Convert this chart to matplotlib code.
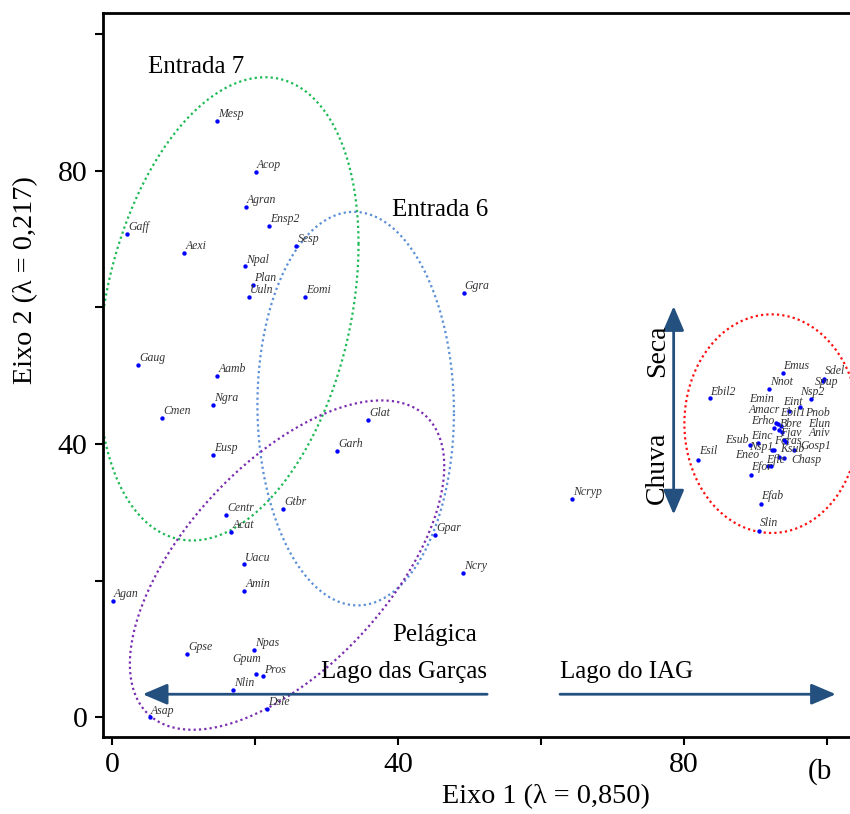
import numpy as np
import matplotlib
matplotlib.use("Agg")
import matplotlib.pyplot as plt

# ---- species scores (Axis 1, Axis 2) ----
species = ["Mesp", "Acop", "Agran", "Ensp2", "Gaff", "Sesp", "Aexi", "Npal", "Plan", "Uuln",
           "Eomi", "Ggra", "Gaug", "Aamb", "Ngra", "Cmen", "Glat", "Garh", "Eusp", "Ncryp",
           "Gtbr", "Centr", "Acat", "Gpar", "Uacu", "Ncry", "Amin", "Agan", "Npas", "Gpse",
           "Gpum", "Pros", "Nlin", "Dsle", "Asap"]
axis1 = [14.7, 20.1, 18.7, 22.0, 2.15, 25.8, 10.1, 18.6, 19.7, 19.2,
         27.0, 49.2, 3.7, 14.75, 14.1, 7.0, 35.8, 31.5, 14.2, 64.4,
         23.9, 16.0, 16.7, 45.2, 18.5, 49.1, 18.5, 0.1, 19.9, 10.5,
         20.1, 21.1, 17.0, 21.7, 5.3]
axis2 = [87.3, 79.9, 74.7, 71.9, 70.7, 69.0, 68.0, 66.0, 63.3, 61.5,
         61.5, 62.1, 51.6, 50.0, 45.8, 43.8, 43.6, 39.0, 38.4, 32.0,
         30.5, 29.7, 27.1, 26.7, 22.4, 21.2, 18.5, 17.0, 9.9, 9.3,
         6.4, 6.0, 4.0, 1.2, 0.0]

# IAG lake species
iag_species = ["Emus", "Sdel", "Spup", "Nnot", "Ebil2", "Nsp2", "Eint", "Ebil1", "Emin", "Erho",
               "Pnob", "Amacr", "Bbre", "Elun", "Fjav", "Aniv", "Einc", "Esub", "Gosp1", "Nsp1",
               "Fcras", "Ksub", "Chasp", "Esil", "Eneo", "Efle", "Efor", "Efab", "Slin"]
iag_axis1 = [93.9, 99.7, 99.5, 92.0, 83.7, 97.8, 96.3, 94.7, 92.9, 93.2,
             93.6, 92.7, 93.3, 93.8, 94.0, 94.3, 90.4, 89.3, 95.4, 92.3,
             92.6, 93.4, 94.0, 82.0, 91.8, 92.2, 89.4, 90.8, 90.6]
iag_axis2 = [50.4, 49.5, 49.3, 48.0, 46.8, 46.6, 45.5, 44.8, 43.1, 42.9,
             42.7, 42.4, 42.0, 41.8, 40.6, 40.3, 40.2, 39.9, 39.2, 39.1,
             39.1, 38.1, 38.0, 37.7, 36.8, 36.8, 35.5, 31.2, 27.3]

# label anchors for the crowded IAG group (data units)
label_pos = {
    "Emus": (93.93, 51.05), "Sdel": (99.76, 50.22), "Spup": (98.36, 48.71),
    "Nnot": (92.06, 48.61), "Ebil2": (83.75, 47.25), "Nsp2": (96.36, 47.14),
    "Emin": (89.12, 46.16), "Eint": (93.93, 45.68), "Amacr": (89.03, 44.61),
    "Ebil1": (93.56, 44.11), "Pnob": (97.06, 44.11), "Erho": (89.45, 43.0),
    "Bbre": (93.46, 42.56), "Elun": (97.44, 42.56), "Fjav": (93.56, 41.14),
    "Aniv": (97.44, 41.14), "Einc": (89.45, 40.80), "Esub": (85.76, 40.22),
    "Fcras": (92.62, 39.97), "Nsp1": (89.12, 39.19), "Gosp1": (96.36, 39.28),
    "Ksub": (93.46, 38.80), "Eneo": (87.25, 37.96), "Chasp": (95.05, 37.23),
    "Efle": (91.55, 37.23), "Esil": (82.11, 38.61), "Efor": (89.45, 36.27),
    "Efab": (90.90, 31.96), "Slin": (90.66, 28.01), "Gpum": (16.9, 8.1),
}

# group envelopes: centre x, centre y, half-width, half-height, tilt (sine)
groups = {
    "Entrada 7": dict(c=(16.3, 59.8), r=(18.2, 33.9), s=0.28, color="#1db954"),
    "Entrada 6": dict(c=(34.1, 45.2), r=(13.75, 28.8), s=-0.02, color="#5b8fd6"),
    "Pelágica": dict(c=(24.5, 22.3), r=(22.0, 24.1), s=0.60, color="#7a2db0"),
    "IAG": dict(c=(92.3, 43.0), r=(12.2, 16.0), s=0.0, color="#ff1010"),
}

SERIF = "Liberation Serif"
ARROW = "#24507f"

fig = plt.figure(figsize=(8.5, 8.14), dpi=100)
ax = fig.add_axes([103 / 850, 77.4 / 814, (853 - 103) / 850, (801 - 77.4) / 814])
ax.set_xlim(-1.26, 103.7)
ax.set_ylim(-2.8, 103.1)

# envelopes
t = np.linspace(0, 2 * np.pi, 400)
for g in groups.values():
    cx, cy = g["c"]
    rx, ry = g["r"]
    phi = np.arcsin(g["s"])
    ax.plot(cx + rx * np.cos(t), cy + ry * np.sin(t + phi), color=g["color"],
            lw=1.6, linestyle=(0, (1, 1.4)), zorder=2)

# points and names
all_x = axis1 + iag_axis1
all_y = axis2 + iag_axis2
all_n = species + iag_species
ax.scatter(all_x, all_y, s=10, color="#0000ff", zorder=4, linewidths=0)
for n, x, y in zip(all_n, all_x, all_y):
    if n in label_pos:
        lx, ly = label_pos[n]
        ax.text(lx, ly, n, fontsize=8.5, style="italic", family=SERIF,
                color="#333333", ha="left", va="baseline", zorder=5)
    else:
        ax.annotate(n, (x, y), xytext=(0.8, 2.8), textcoords="offset points",
                    fontsize=8.5, style="italic", family=SERIF, color="#333333",
                    ha="left", va="baseline", zorder=5)

# arrows
akw = dict(arrowstyle="-|>,head_length=0.75,head_width=0.32", mutation_scale=20,
           lw=2.0, color=ARROW, shrinkA=0, shrinkB=0)
ax.annotate("", xy=(4.3, 3.4), xytext=(52.5, 3.4), arrowprops=akw)
ax.annotate("", xy=(101.3, 3.4), xytext=(62.7, 3.4), arrowprops=akw)
akw2 = dict(akw, arrowstyle="<|-|>,head_length=0.75,head_width=0.32")
ax.annotate("", xy=(78.6, 60.2), xytext=(78.6, 29.7), arrowprops=akw2)

# group / gradient titles
tkw = dict(family=SERIF, fontsize=18, color="black")
ax.text(5.0, 95.2, "Entrada 7", va="center", ha="left", **tkw)
ax.text(39.2, 74.2, "Entrada 6", va="center", ha="left", **tkw)
ax.text(39.2, 12.0, "Pelágica", va="center", ha="left", **tkw)
ax.text(52.5, 6.6, "Lago das Garças", va="center", ha="right", **tkw)
ax.text(62.7, 6.6, "Lago do IAG", va="center", ha="left", **tkw)
rkw = dict(tkw, fontsize=20)
ax.text(76.3, 53.7, "Seca", va="center", ha="center", rotation=90, **rkw)
ax.text(76.3, 36.5, "Chuva", va="center", ha="center", rotation=90, **rkw)

# axes styling
ax.spines["right"].set_visible(False)
for sp in ("left", "bottom", "top"):
    ax.spines[sp].set_linewidth(2.0)
ticks = [0, 20, 40, 60, 80, 100]
tick_labels = ["0", "", "40", "", "80", ""]
ax.set_xticks(ticks)
ax.set_xticklabels(tick_labels)
ax.set_yticks(ticks)
ax.set_yticklabels(tick_labels)
ax.tick_params(direction="out", length=6, width=1.5, labelsize=21.5, pad=5)
for lab in ax.get_xticklabels() + ax.get_yticklabels():
    lab.set_family(SERIF)

fig.text(546 / 850, 1 - 797 / 814, "Eixo 1 (λ = 0,850)", ha="center", va="center",
         family=SERIF, fontsize=20.3)
fig.text(26 / 850, 1 - 280 / 814, "Eixo 2 (λ = 0,217)", ha="center", va="center",
         rotation=90, family=SERIF, fontsize=20.3)
fig.text(808 / 850, 1 - 772 / 814, "(b", ha="left", va="center", family=SERIF, fontsize=21)

fig.savefig("out.png", dpi=100)
